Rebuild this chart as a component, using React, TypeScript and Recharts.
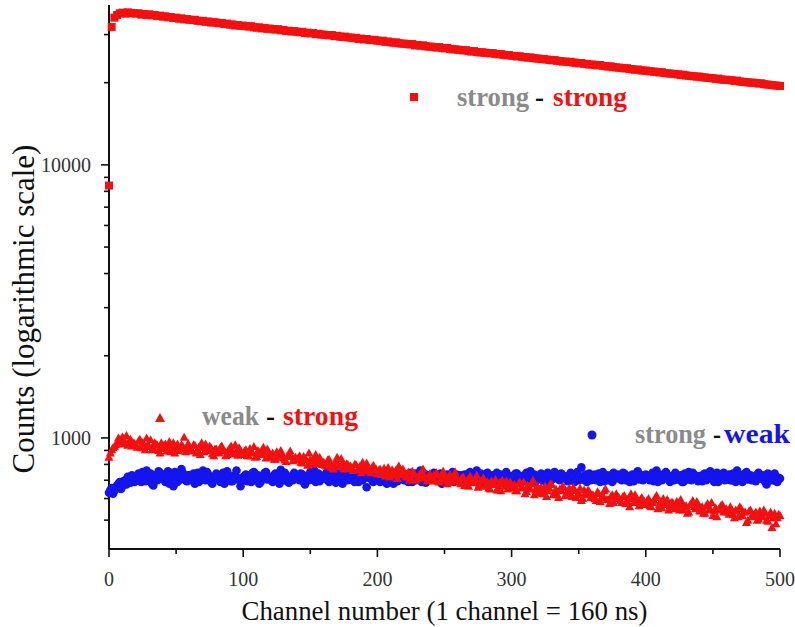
import React from 'react';
import { ScatterChart, Scatter, XAxis, YAxis } from 'recharts';

// ---- data ----
// *_EVEN: channels 0, 2, 4, ... 500 ; *_ODD: channels 1, 3, 5, ... 499

// strong - strong (red squares), even channels
const SS_VALUES: number[] = [
  8400, 32000, 34600, 35400, 35900, 36100, 35800, 36200, 35900, 36000,
  35800, 35900, 35500, 35700, 35400, 35600, 35300, 35400, 35100, 35200,
  34900, 35000, 34700, 34800, 34500, 34600, 34300, 34400, 34100, 34200,
  34000, 33900, 34000, 33700, 33600, 33700, 33400, 33500, 33200, 33300,
  33200, 33000, 33100, 32800, 32900, 32600, 32700, 32400, 32500, 32300,
  32350, 32200, 32100, 32200, 31900, 31800, 31900, 31600, 31700, 31500,
  31550, 31400, 31300, 31400, 31100, 31200, 30900, 31000, 30800, 30900,
  30750, 30600, 30700, 30400, 30500, 30300, 30400, 30100, 30200, 30000,
  30000, 29900, 29800, 29900, 29600, 29700, 29500, 29400, 29500, 29300,
  29250, 29100, 29200, 28900, 29000, 28800, 28900, 28700, 28600, 28700,
  28500, 28400, 28500, 28200, 28300, 28100, 28000, 28100, 27900, 27800,
  27800, 27700, 27600, 27700, 27400, 27500, 27300, 27400, 27200, 27100,
  27100, 27000, 26900, 27000, 26800, 26700, 26800, 26600, 26500, 26500,
  26400, 26350, 26250, 26300, 26100, 26000, 26100, 25900, 25800, 25850,
  25750, 25700, 25600, 25650, 25500, 25400, 25450, 25300, 25200, 25250,
  25100, 25050, 24950, 25000, 24850, 24800, 24700, 24750, 24600, 24550,
  24500, 24400, 24450, 24300, 24250, 24150, 24200, 24050, 24000, 23900,
  23900, 23800, 23850, 23700, 23650, 23550, 23600, 23450, 23400, 23300,
  23300, 23250, 23150, 23200, 23050, 23000, 22900, 22950, 22800, 22750,
  22700, 22650, 22550, 22600, 22450, 22400, 22300, 22350, 22200, 22150,
  22150, 22050, 22000, 21950, 21900, 21800, 21850, 21700, 21650, 21600,
  21550, 21500, 21450, 21350, 21400, 21250, 21200, 21150, 21100, 21050,
  21050, 20950, 20900, 20850, 20800, 20750, 20650, 20700, 20550, 20500,
  20500, 20450, 20400, 20300, 20350, 20200, 20150, 20100, 20050, 20000,
  20000, 19950, 19850, 19900, 19750, 19700, 19650, 19600, 19550, 19500,
  19450,
];

// weak - strong (red triangles)
const WS_EVEN: number[] = [
  850, 905, 930, 955, 985, 1010, 965, 940, 990, 960,
  945, 975, 920, 950, 1000, 930, 905, 960, 940, 880,
  915, 950, 935, 890, 960, 925, 900, 945, 1005, 915,
  930, 895, 940, 905, 870, 925, 950, 900, 920, 860,
  910, 880, 935, 895, 870, 915, 890, 945, 865, 900,
  875, 905, 860, 890, 930, 855, 885, 900, 870, 910,
  850, 880, 835, 865, 900, 845, 820, 870, 855, 840,
  830, 860, 810, 845, 795, 835, 820, 870, 805, 825,
  815, 790, 835, 780, 805, 850, 785, 810, 770, 800,
  790, 760, 800, 775, 745, 785, 810, 755, 780, 765,
  740, 770, 755, 725, 780, 750, 730, 765, 790, 735,
  745, 720, 700, 755, 735, 710, 740, 770, 715, 725,
  700, 730, 745, 690, 715, 725, 680, 735, 710, 750,
  705, 680, 720, 690, 665, 710, 695, 730, 675, 700,
  665, 690, 650, 685, 705, 660, 640, 680, 695, 670,
  655, 675, 640, 690, 660, 625, 670, 650, 700, 645,
  630, 660, 645, 610, 655, 675, 635, 620, 650, 665,
  615, 640, 625, 660, 605, 630, 590, 645, 620, 635,
  620, 600, 635, 585, 615, 650, 595, 610, 580, 625,
  605, 580, 615, 590, 560, 600, 620, 585, 595, 570,
  575, 600, 560, 590, 615, 570, 555, 585, 595, 565,
  580, 550, 570, 595, 545, 565, 535, 575, 560, 585,
  540, 560, 530, 575, 550, 520, 555, 545, 565, 535,
  550, 525, 545, 510, 540, 560, 520, 535, 500, 545,
  515, 535, 505, 525, 545, 500, 520, 470, 530, 510,
  520,
];
const WS_ODD: number[] = [
  880, 920, 945, 1000, 970, 950, 1020, 975, 935, 955,
  925, 990, 960, 905, 945, 985, 920, 950, 900, 960,
  940, 895, 970, 920, 880, 950, 915, 935, 890, 955,
  905, 945, 880, 925, 960, 890, 915, 935, 875, 910,
  885, 925, 900, 860, 905, 935, 875, 895, 920, 870,
  895, 860, 915, 880, 850, 900, 870, 925, 845, 880,
  865, 835, 890, 850, 875, 830, 860, 895, 825, 850,
  845, 815, 855, 830, 880, 805, 840, 815, 850, 800,
  795, 830, 805, 770, 820, 795, 840, 775, 805, 785,
  775, 800, 765, 790, 815, 760, 780, 745, 795, 770,
  760, 735, 775, 745, 720, 765, 745, 710, 750, 770,
  725, 750, 715, 740, 700, 730, 755, 720, 695, 740,
  720, 695, 735, 710, 755, 700, 720, 690, 730, 705,
  690, 715, 670, 700, 725, 685, 705, 660, 695, 715,
  680, 655, 695, 675, 645, 685, 700, 665, 650, 690,
  665, 640, 680, 655, 690, 635, 660, 680, 620, 665,
  650, 625, 665, 640, 680, 620, 650, 605, 640, 660,
  630, 655, 610, 640, 620, 655, 600, 630, 645, 605,
  615, 590, 625, 605, 640, 595, 575, 620, 600, 610,
  590, 610, 575, 600, 625, 580, 595, 565, 605, 585,
  590, 565, 580, 605, 550, 585, 600, 570, 545, 580,
  560, 585, 545, 575, 560, 530, 570, 590, 550, 565,
  555, 530, 565, 545, 580, 540, 515, 555, 570, 540,
  535, 560, 525, 545, 515, 550, 535, 490, 540, 520,
  525, 500, 540, 515, 530, 495, 535, 510, 485, 525,
];

// strong - weak (blue circles)
const SW_EVEN: number[] = [
  630, 655, 640, 670, 690, 665, 700, 720, 685, 705,
  715, 740, 690, 725, 760, 705, 680, 730, 700, 745,
  720, 690, 755, 710, 665, 735, 700, 770, 715, 695,
  730, 710, 680, 745, 720, 760, 700, 735, 690, 715,
  740, 705, 725, 680, 755, 715, 695, 730, 710, 665,
  700, 735, 720, 690, 750, 710, 680, 725, 745, 705,
  715, 690, 740, 720, 765, 700, 730, 685, 710, 745,
  720, 700, 735, 675, 715, 750, 705, 690, 740, 725,
  710, 745, 690, 720, 700, 760, 730, 680, 715, 700,
  735, 705, 720, 690, 745, 715, 660, 725, 700, 740,
  715, 690, 730, 755, 700, 720, 680, 745, 710, 725,
  700, 735, 715, 690, 740, 720, 760, 705, 685, 730,
  715, 745, 700, 725, 680, 710, 735, 695, 750, 720,
  705, 730, 715, 690, 740, 700, 725, 760, 710, 685,
  720, 745, 700, 730, 710, 675, 735, 715, 750, 705,
  725, 700, 740, 715, 690, 730, 705, 755, 720, 695,
  710, 740, 720, 685, 735, 705, 750, 715, 700, 730,
  720, 695, 745, 710, 730, 700, 780, 715, 690, 740,
  705, 735, 720, 690, 750, 715, 700, 730, 745, 710,
  725, 700, 740, 715, 690, 735, 710, 755, 720, 700,
  735, 710, 725, 695, 760, 715, 700, 740, 720, 690,
  715, 745, 705, 730, 690, 720, 750, 700, 735, 710,
  725, 695, 740, 715, 755, 705, 730, 690, 720, 745,
  710, 735, 700, 725, 760, 715, 690, 740, 705, 730,
  720, 695, 745, 710, 730, 675, 725, 700, 740, 690,
  710,
];
const SW_ODD: number[] = [
  645, 625, 660, 680, 650, 695, 675, 710, 730, 690,
  700, 725, 750, 695, 715, 740, 670, 720, 755, 710,
  735, 705, 680, 725, 750, 690, 720, 745, 700, 730,
  700, 740, 715, 690, 730, 705, 750, 715, 680, 725,
  720, 690, 745, 710, 730, 695, 725, 760, 700, 715,
  725, 695, 710, 745, 700, 730, 690, 715, 750, 720,
  700, 730, 710, 680, 725, 745, 695, 720, 700, 735,
  710, 740, 690, 725, 700, 730, 760, 715, 695, 710,
  730, 700, 720, 750, 685, 715, 740, 705, 730, 720,
  710, 690, 740, 720, 700, 735, 715, 755, 690, 720,
  730, 705, 715, 680, 740, 700, 725, 695, 735, 710,
  720, 690, 745, 710, 700, 730, 690, 740, 720, 705,
  730, 700, 715, 740, 695, 725, 705, 715, 690, 735,
  720, 695, 735, 710, 750, 720, 690, 705, 740, 715,
  700, 725, 690, 715, 745, 705, 720, 695, 730, 715,
  710, 740, 695, 725, 705, 745, 715, 690, 735, 710,
  730, 700, 715, 745, 695, 720, 730, 705, 740, 715,
  705, 730, 715, 690, 750, 720, 705, 735, 715, 700,
  725, 700, 740, 715, 695, 730, 710, 690, 720, 735,
  710, 745, 700, 725, 715, 695, 740, 705, 730, 715,
  720, 700, 745, 715, 690, 730, 710, 750, 705, 725,
  700, 730, 715, 690, 740, 705, 720, 745, 715, 695,
  710, 735, 700, 730, 715, 690, 745, 710, 735, 700,
  725, 700, 740, 690, 715, 730, 705, 750, 715, 700,
  705, 735, 710, 725, 690, 740, 705, 720, 695, 715,
];

const X_TICKS = [0, 50, 100, 150, 200, 250, 300, 350, 400, 450, 500];
const X_LABELED = [0, 100, 200, 300, 400, 500];
const Y_TICKS = [
  500, 600, 700, 800, 900,
  1000, 2000, 3000, 4000, 5000, 6000, 7000, 8000, 9000,
  10000, 20000, 30000,
];
const Y_LABELED = [1000, 10000];

const X_LABEL = 'Channel number (1 channel = 160 ns)';
const Y_LABEL = 'Counts (logarithmic scale)';

const RED = '#f41010';
const BLUE = '#1414ee';
const GRAY = '#8a8a8a';
const FONT = '"Liberation Serif", "Times New Roman", serif';

const evenPts = (vals: number[]) => vals.map((y, i) => ({ x: i * 2, y }));
const oddPts = (vals: number[]) => vals.map((y, i) => ({ x: i * 2 + 1, y }));
const ssData = evenPts(SS_VALUES);
const wsData = [...evenPts(WS_EVEN), ...oddPts(WS_ODD)];
const swData = [...evenPts(SW_EVEN), ...oddPts(SW_ODD)];

const SquareShape = (p: any) => (
  <rect x={p.cx - 4} y={p.cy - 4} width={8} height={8} fill={RED} />
);
const TriShape = (p: any) => (
  <path d={`M${p.cx},${p.cy - 4.5} L${p.cx + 4.5},${p.cy + 3.5} L${p.cx - 4.5},${p.cy + 3.5} Z`} fill={RED} />
);
const DotShape = (p: any) => <circle cx={p.cx} cy={p.cy} r={4.3} fill={BLUE} />;

const YTick = (props: any) => {
  const { x, y, payload } = props;
  const v = payload.value;
  const major = Y_LABELED.includes(v);
  const len = major ? 8 : 5;
  return (
    <g>
      <line x1={x} x2={x - len} y1={y} y2={y} stroke="#111" strokeWidth={1.6} />
      {major && (
        <text x={x - 18} y={y} dy="0.35em" textAnchor="end" fontSize={20} fontFamily={FONT} fill="#333">
          {v}
        </text>
      )}
    </g>
  );
};

const XTick = (props: any) => {
  const { x, y, payload } = props;
  const v = payload.value;
  const major = X_LABELED.includes(v);
  const len = major ? 8 : 5;
  return (
    <g>
      <line x1={x} x2={x} y1={y} y2={y + len} stroke="#111" strokeWidth={1.6} />
      {major && (
        <text x={x} y={y + 37} textAnchor="middle" fontSize={20} fontFamily={FONT} fill="#333">
          {v}
        </text>
      )}
    </g>
  );
};

const XLabel = (props: any) => {
  const vb = props.viewBox;
  return (
    <text
      x={vb.x + vb.width / 2}
      y={vb.y + 71}
      textAnchor="middle"
      fontSize={28}
      fontFamily={FONT}
      fill="#111"
      textLength={406}
      lengthAdjust="spacingAndGlyphs"
    >
      {X_LABEL}
    </text>
  );
};

const YLabel = (props: any) => {
  const vb = props.viewBox;
  const cx = 34;
  const cy = vb.y + vb.height / 2 + 32;
  return (
    <text
      x={cx}
      y={cy}
      textAnchor="middle"
      fontSize={31}
      fontFamily={FONT}
      fill="#111"
      transform={`rotate(-90, ${cx}, ${cy})`}
    >
      {Y_LABEL}
    </text>
  );
};

const Word = ({ x, y, w, color, children }: any) => (
  <text x={x} y={y} fill={color} textLength={w} lengthAdjust="spacingAndGlyphs">
    {children}
  </text>
);

const LegendOverlay = () => (
  <svg width={795} height={627} style={{ position: 'absolute', left: 0, top: 0, pointerEvents: 'none' }}>
    <g fontFamily={FONT} fontWeight="bold" fontSize={27}>
      <rect x={410} y={93} width={8} height={8} fill={RED} />
      <Word x={457} y={106} w={72} color={GRAY}>strong</Word>
      <Word x={535} y={106} w={9} color="#111">-</Word>
      <Word x={553} y={106} w={74} color={RED}>strong</Word>

      <path d="M160,413 L165,422 L155,422 Z" fill={RED} />
      <Word x={202} y={425} w={57} color={GRAY}>weak</Word>
      <Word x={266} y={425} w={9} color="#111">-</Word>
      <Word x={283} y={425} w={75} color={RED}>strong</Word>

      <circle cx={592} cy={435} r={4.5} fill={BLUE} />
      <Word x={635} y={443} w={71} color={GRAY}>strong</Word>
      <Word x={713} y={443} w={8} color="#111">-</Word>
      <Word x={724} y={443} w={66} color={BLUE}>weak</Word>
    </g>
  </svg>
);

export default function App() {
  return (
    <div style={{ position: 'absolute', left: 0, top: 0, width: 795, height: 627, background: '#fff' }}>
      <ScatterChart width={795} height={627} margin={{ top: 5, right: 15, bottom: 38, left: 49 }}>
        <XAxis
          type="number"
          dataKey="x"
          domain={[0, 500]}
          ticks={X_TICKS}
          interval={0}
          height={40}
          tickSize={0}
          tickMargin={0}
          tickLine={false}
          axisLine={{ stroke: '#111', strokeWidth: 2 }}
          tick={<XTick />}
          label={<XLabel />}
        />
        <YAxis
          type="number"
          dataKey="y"
          scale="log"
          domain={[392, 38500]}
          allowDataOverflow
          ticks={Y_TICKS}
          interval={0}
          width={60}
          tickSize={0}
          tickMargin={0}
          tickLine={false}
          axisLine={{ stroke: '#111', strokeWidth: 2 }}
          tick={<YTick />}
          label={<YLabel />}
        />
        <Scatter name="strong - strong" data={ssData} shape={<SquareShape />} isAnimationActive={false} />
        <Scatter name="strong - weak" data={swData} shape={<DotShape />} isAnimationActive={false} />
        <Scatter name="weak - strong" data={wsData} shape={<TriShape />} isAnimationActive={false} />
      </ScatterChart>
      <LegendOverlay />
    </div>
  );
}
